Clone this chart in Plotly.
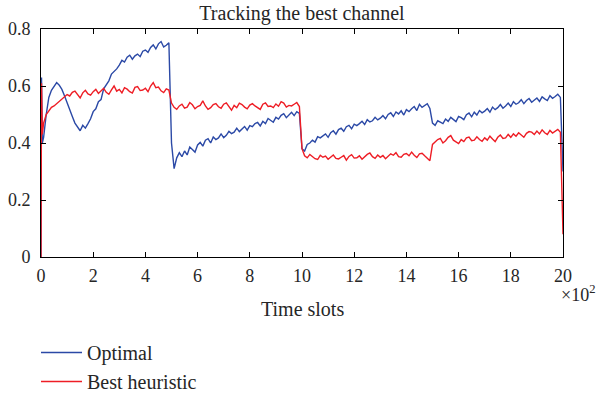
import plotly.graph_objects as go

# time slots (units of 10^2 slots)
head_slots = [0, 0.02, 0.05]
grid_slots = [round(i / 10, 1) for i in range(1, 201)]
time_slots = head_slots + grid_slots

optimal_head = [0.0, 0.63, 0.40]
optimal_vals = [
    0.42, 0.50, 0.56, 0.585, 0.60, 0.612, 0.603, 0.588, 0.566, 0.54,
    0.515, 0.493, 0.47, 0.456, 0.443, 0.462, 0.452, 0.468, 0.485, 0.51,
    0.52, 0.545, 0.552, 0.59, 0.604, 0.618, 0.642, 0.65, 0.66, 0.673,
    0.69, 0.684, 0.701, 0.708, 0.694, 0.706, 0.712, 0.703, 0.722, 0.726,
    0.718, 0.735, 0.744, 0.73, 0.748, 0.756, 0.737, 0.743, 0.752, 0.40,
    0.31, 0.348, 0.366, 0.352, 0.372, 0.358, 0.386, 0.377, 0.368, 0.393,
    0.402, 0.389, 0.41, 0.415, 0.40, 0.421, 0.412, 0.418, 0.432, 0.419,
    0.427, 0.441, 0.433, 0.438, 0.452, 0.44, 0.448, 0.458, 0.445, 0.461,
    0.457, 0.468, 0.472, 0.46, 0.476, 0.468, 0.486, 0.479, 0.473, 0.49,
    0.484, 0.497, 0.503, 0.489, 0.50, 0.508, 0.496, 0.51, 0.504, 0.38,
    0.372, 0.395, 0.40, 0.41, 0.403, 0.422, 0.418, 0.426, 0.432, 0.42,
    0.436, 0.443, 0.431, 0.447, 0.452, 0.441, 0.457, 0.462, 0.45, 0.466,
    0.461, 0.468, 0.476, 0.465, 0.482, 0.474, 0.478, 0.49, 0.481, 0.487,
    0.496, 0.485, 0.50, 0.506, 0.493, 0.509, 0.502, 0.513, 0.498, 0.517,
    0.51, 0.52, 0.528, 0.514, 0.536, 0.525, 0.53, 0.538, 0.521, 0.47,
    0.462, 0.478, 0.473, 0.468, 0.484, 0.476, 0.49, 0.482, 0.475, 0.493,
    0.489, 0.482, 0.499, 0.505, 0.492, 0.508, 0.498, 0.514, 0.506, 0.512,
    0.521, 0.508, 0.526, 0.517, 0.524, 0.535, 0.522, 0.53, 0.54, 0.528,
    0.545, 0.536, 0.541, 0.552, 0.538, 0.549, 0.556, 0.543, 0.55, 0.558,
    0.546, 0.562, 0.555, 0.549, 0.566, 0.557, 0.563, 0.571, 0.56, 0.30,
]

heuristic_head = [0.0, 0.61, 0.43]
heuristic_vals = [
    0.47, 0.50, 0.515, 0.525, 0.53, 0.538, 0.545, 0.556, 0.562, 0.57,
    0.565, 0.578, 0.582, 0.57, 0.558, 0.576, 0.585, 0.572, 0.568, 0.58,
    0.588, 0.574, 0.583, 0.592, 0.578, 0.571, 0.586, 0.60, 0.582, 0.588,
    0.576, 0.594, 0.589, 0.58, 0.575, 0.595, 0.598, 0.584, 0.586, 0.592,
    0.58, 0.60, 0.612, 0.594, 0.596, 0.583, 0.577, 0.59, 0.586, 0.54,
    0.525, 0.518, 0.53, 0.536, 0.522, 0.526, 0.542, 0.534, 0.52, 0.528,
    0.532, 0.548, 0.53, 0.518, 0.524, 0.535, 0.538, 0.527, 0.522, 0.536,
    0.541, 0.528, 0.515, 0.532, 0.524, 0.54, 0.535, 0.526, 0.52, 0.533,
    0.538, 0.53, 0.524, 0.518, 0.536, 0.541, 0.528, 0.53, 0.524, 0.537,
    0.529, 0.545, 0.54, 0.526, 0.532, 0.53, 0.536, 0.542, 0.528, 0.38,
    0.355, 0.348, 0.36, 0.352, 0.345, 0.342, 0.357, 0.35, 0.354, 0.343,
    0.352, 0.358, 0.346, 0.344, 0.35, 0.356, 0.34, 0.353, 0.359, 0.347,
    0.348, 0.355, 0.343, 0.352, 0.36, 0.365, 0.352, 0.346, 0.358, 0.35,
    0.356, 0.345, 0.352, 0.362, 0.357, 0.366, 0.352, 0.35, 0.36, 0.363,
    0.355, 0.368, 0.357, 0.349, 0.362, 0.364, 0.355, 0.345, 0.338, 0.395,
    0.405, 0.412, 0.416, 0.40, 0.408, 0.42, 0.426, 0.41, 0.404, 0.398,
    0.412, 0.405, 0.418, 0.421, 0.408, 0.41, 0.422, 0.412, 0.406, 0.418,
    0.41, 0.424, 0.414, 0.405, 0.42, 0.428, 0.416, 0.418, 0.43, 0.42,
    0.432, 0.424, 0.436, 0.428, 0.42, 0.434, 0.44, 0.438, 0.43, 0.442,
    0.432, 0.446, 0.436, 0.43, 0.444, 0.435, 0.442, 0.448, 0.438, 0.08,
]

x_ticks = [0, 2, 4, 6, 8, 10, 12, 14, 16, 18, 20]
y_ticks = [0, 0.2, 0.4, 0.6, 0.8]
y_tick_labels = ["0", "0.2", "0.4", "0.6", "0.8"]

BLUE = "#2b49a6"
RED = "#ee1d25"
FONT = "Liberation Serif, DejaVu Serif, serif"
TXT = "#262626"

fig = go.Figure()
fig.add_trace(go.Scatter(x=time_slots, y=optimal_head + optimal_vals, mode="lines",
                         name="Optimal",
                         line=dict(color=BLUE, width=1.4)))
fig.add_trace(go.Scatter(x=time_slots, y=heuristic_head + heuristic_vals, mode="lines",
                         name="Best heuristic",
                         line=dict(color=RED, width=1.4)))

axis_common = dict(showline=True, linecolor="black", linewidth=1, mirror="ticks",
                   ticks="inside", ticklen=5, tickwidth=1, tickcolor="black",
                   showgrid=False, zeroline=False, automargin=False,
                   tickfont=dict(family=FONT, size=18, color=TXT))

fig.update_layout(
    width=600, height=395,
    margin=dict(l=41, r=37, t=29, b=138, autoexpand=False),
    paper_bgcolor="white", plot_bgcolor="white",
    font=dict(family=FONT, color=TXT),
    title=dict(text="Tracking the best channel", x=0.5, xref="paper", xanchor="center",
               y=1 - 13 / 395, yref="container", yanchor="middle",
               font=dict(family=FONT, size=20, color=TXT)),
    xaxis=dict(range=[0, 20], tickvals=x_ticks, ticklabelstandoff=2, **axis_common),
    yaxis=dict(range=[0, 0.8], tickvals=y_ticks, ticktext=y_tick_labels,
               ticklabelstandoff=6, **axis_common),
    showlegend=True,
    legend=dict(xref="container", yref="container", x=36 / 600, xanchor="left",
                y=1 - 333 / 395, yanchor="top", itemwidth=41,
                font=dict(family=FONT, size=20, color=TXT), bgcolor="rgba(0,0,0,0)"),
    annotations=[
        dict(text="Time slots", xref="paper", yref="paper", x=0.5, y=-0.228,
             xanchor="center", yanchor="middle", showarrow=False,
             font=dict(family=FONT, size=20, color=TXT)),
        dict(text="×10<sup>2</sup>", xref="paper", yref="paper", x=1.066, y=-0.158,
             xanchor="right", yanchor="middle", showarrow=False,
             font=dict(family=FONT, size=18, color=TXT)),
    ],
)

fig.write_html("out.html", config={"displayModeBar": False, "staticPlot": True},
               post_script="document.body.style.margin='0';document.body.style.overflow='hidden';")
